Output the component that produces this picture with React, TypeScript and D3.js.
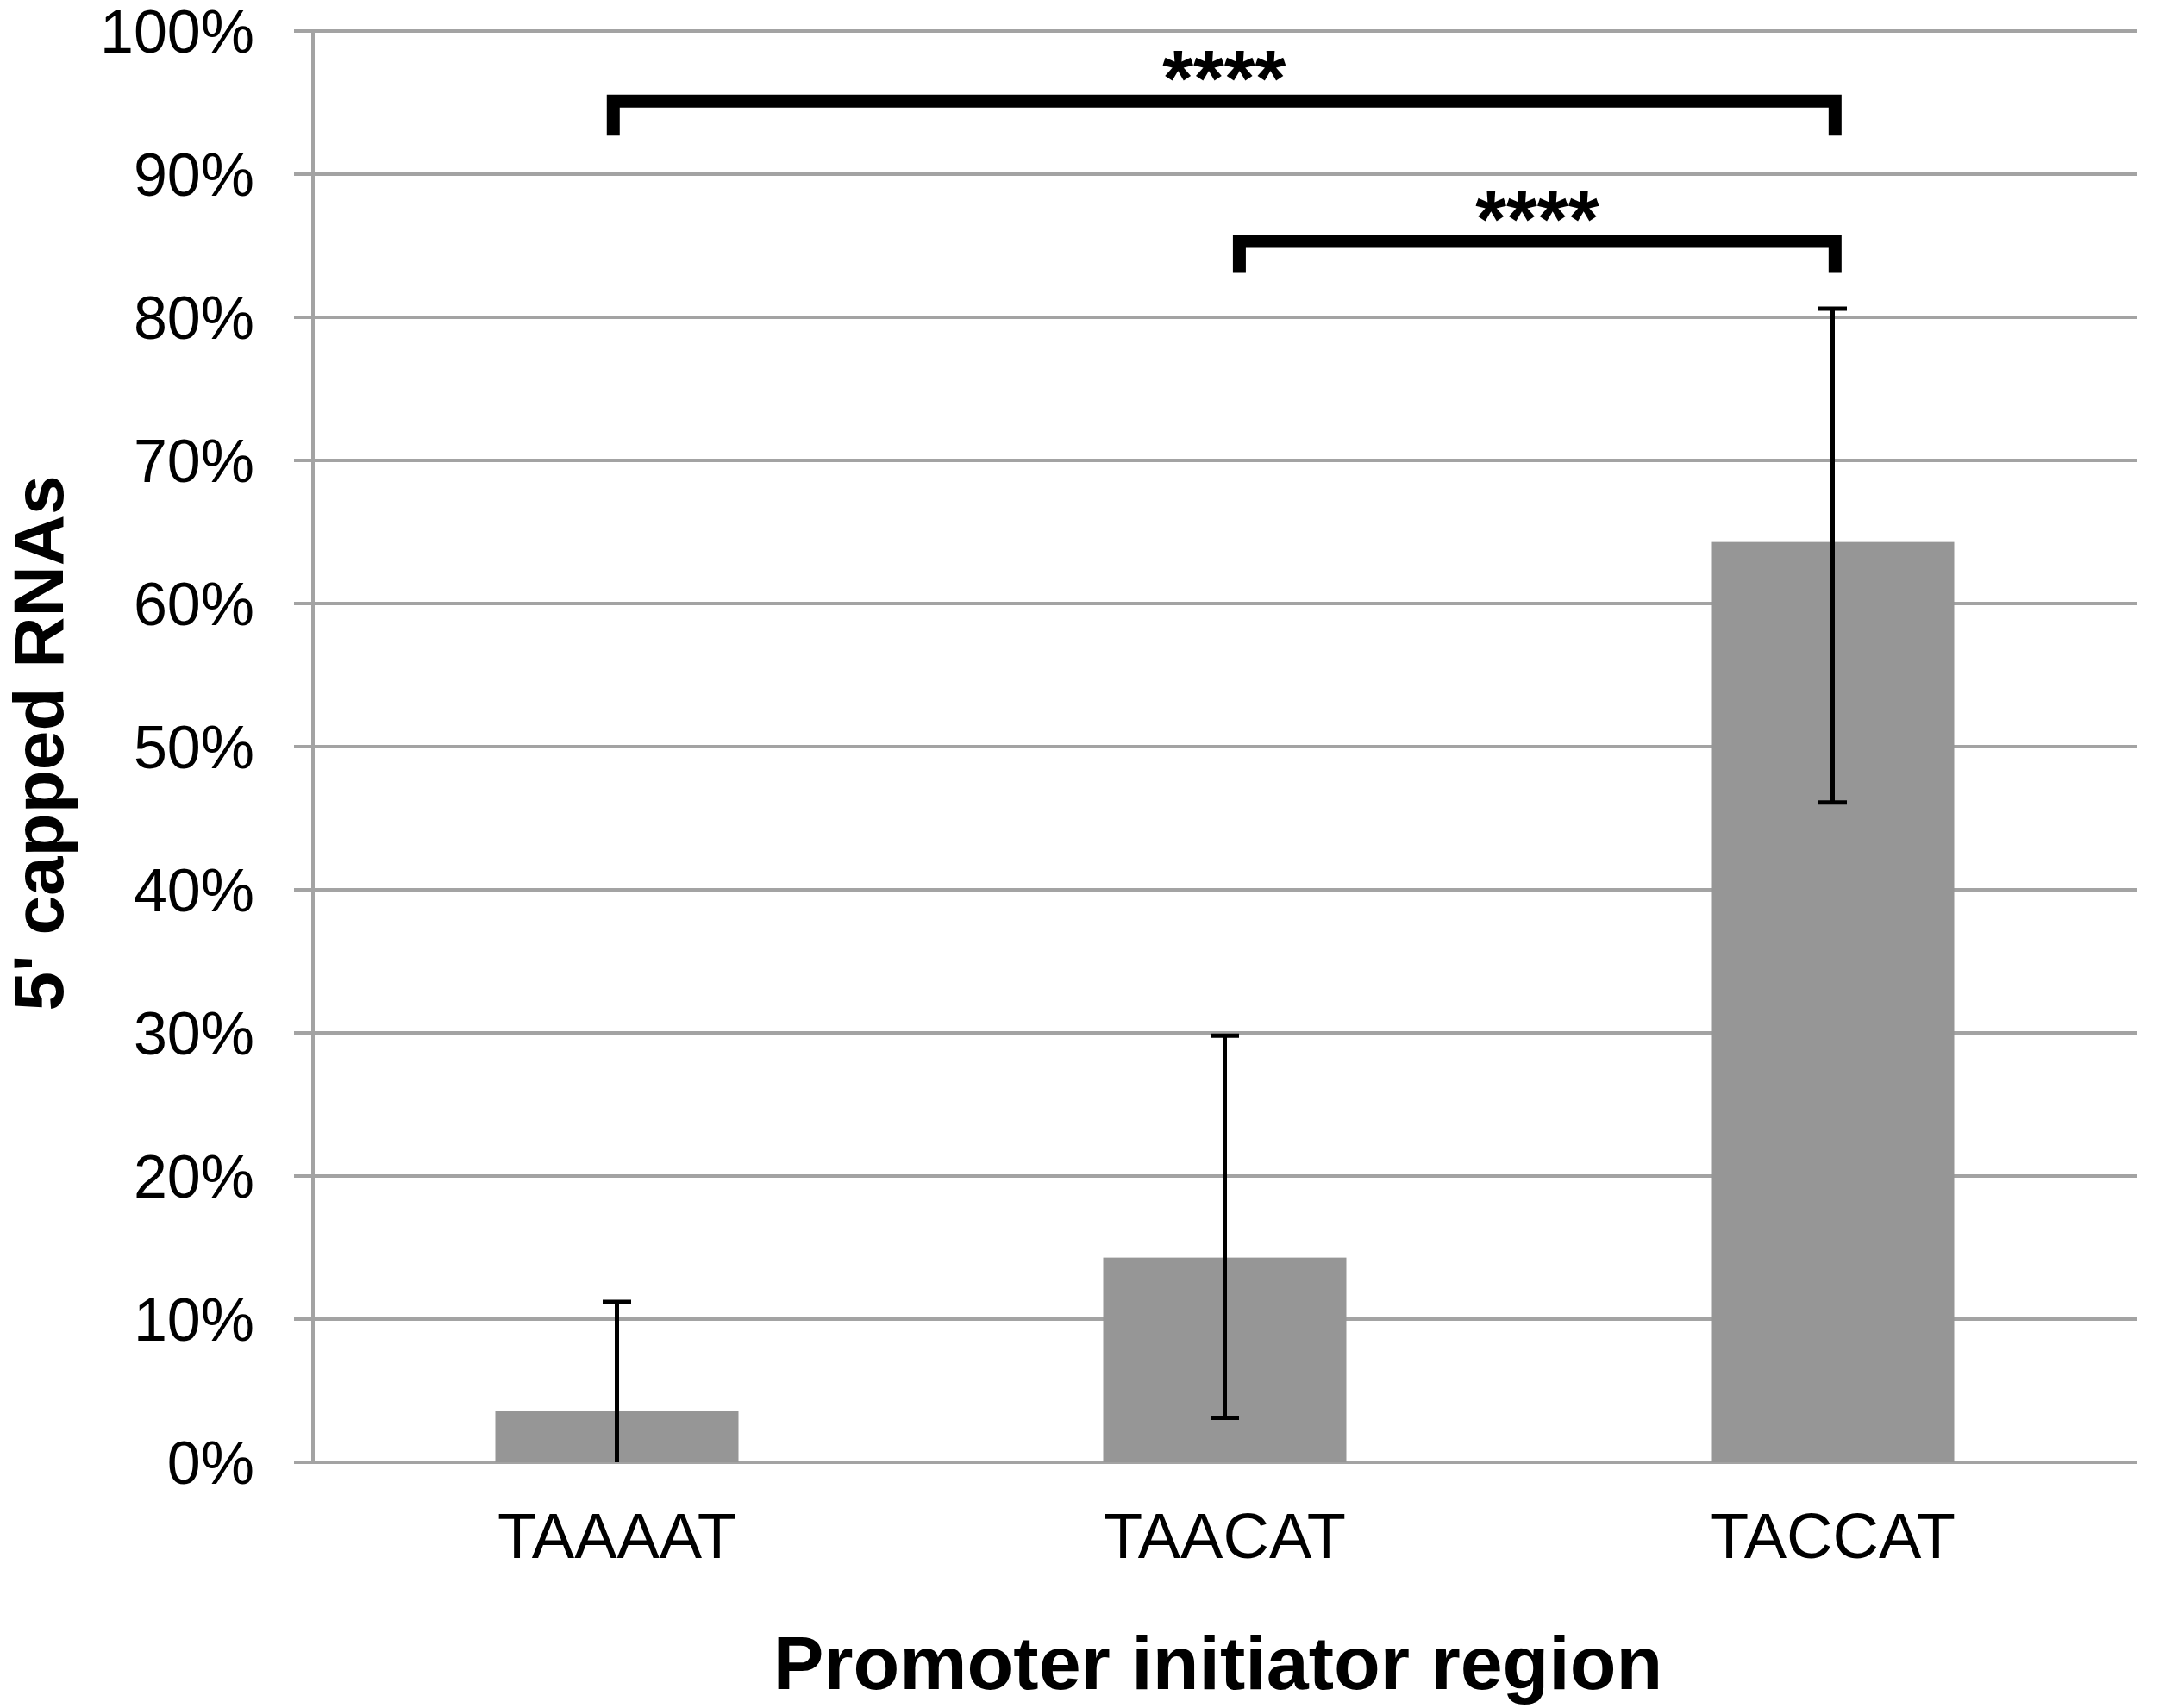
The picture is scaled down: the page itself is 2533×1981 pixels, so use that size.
import React from "react";
import * as d3 from "d3";

const categories = ["TAAAAT", "TAACAT", "TACCAT"];
const means = [3.6, 14.3, 64.3];
const errHigh = [11.2, 29.8, 80.6];
const errLow = [-4.0, 3.1, 46.1];
const yTicks = [0, 10, 20, 30, 40, 50, 60, 70, 80, 90, 100];
const brackets = [
  { from: "TAAAAT", to: "TACCAT", fromShift: -0.006, toShift: 0.004, level: 95.1, foot: 92.7, label: "****" },
  { from: "TAACAT", to: "TACCAT", fromShift: 0.024, toShift: 0.004, level: 85.3, foot: 83.1, label: "****" },
];
const xTitle = "Promoter initiator region";
const yTitle = "5' capped RNAs";

const W = 2533;
const H = 1981;
const FONT = "'Liberation Sans', Arial, Helvetica, sans-serif";

export default function App() {
  const left = 363;
  const right = 2478;
  const top = 36;
  const bottom = 1696;

  const x = d3.scaleBand<string>().domain(categories).range([left, right]).padding(0);
  const y = d3.scaleLinear().domain([0, 100]).range([bottom, top]);
  const bw = x.bandwidth() * 0.4;
  const cx = (c: string) => (x(c) as number) + x.bandwidth() / 2;
  const capW = 33;

  return (
    <svg
      width={W}
      height={H}
      viewBox={`0 0 ${W} ${H}`}
      style={{ position: "absolute", left: 0, top: 0, background: "#fff" }}
    >
      <rect x={0} y={0} width={W} height={H} fill="#fff" />
      {yTicks.map((t) => (
        <line key={t} x1={left - 22} x2={right} y1={y(t)} y2={y(t)} stroke="#a3a3a3" strokeWidth={4} />
      ))}
      <line x1={left} x2={left} y1={y(100)} y2={y(0)} stroke="#a3a3a3" strokeWidth={4} />
      {yTicks.map((t) => (
        <text
          key={"l" + t}
          x={295}
          y={y(t) + 1}
          textAnchor="end"
          dominantBaseline="central"
          fontFamily={FONT}
          fontSize={70}
          fill="#000"
        >
          {t + "%"}
        </text>
      ))}
      {categories.map((c, i) => (
        <rect
          key={c}
          x={cx(c) - bw / 2}
          y={y(means[i])}
          width={bw}
          height={y(0) - y(means[i])}
          fill="#969696"
        />
      ))}
      {categories.map((c, i) => {
        const lo = Math.max(0, errLow[i]);
        const xc = cx(c);
        return (
          <g key={"e" + c} stroke="#000" strokeWidth={5}>
            <line x1={xc} x2={xc} y1={y(errHigh[i])} y2={y(lo)} />
            <line x1={xc - capW / 2} x2={xc + capW / 2} y1={y(errHigh[i])} y2={y(errHigh[i])} />
            {errLow[i] > 0 && (
              <line x1={xc - capW / 2} x2={xc + capW / 2} y1={y(lo)} y2={y(lo)} />
            )}
          </g>
        );
      })}
      {categories.map((c) => (
        <text
          key={"c" + c}
          x={cx(c)}
          y={1807}
          textAnchor="middle"
          fontFamily={FONT}
          fontSize={74}
          fill="#000"
        >
          {c}
        </text>
      ))}
      {brackets.map((b, i) => {
        const x1 = cx(b.from) + b.fromShift * x.bandwidth();
        const x2 = cx(b.to) + b.toShift * x.bandwidth();
        const path = `M${x1},${y(b.foot)} V${y(b.level)} H${x2} V${y(b.foot)}`;
        return (
          <g key={"b" + i}>
            <path d={path} fill="none" stroke="#000" strokeWidth={15} strokeLinejoin="miter" />
            <text
              x={(x1 + x2) / 2}
              y={y(b.level) + 6}
              textAnchor="middle"
              fontFamily={FONT}
              fontWeight="bold"
              fontSize={92}
              fill="#000"
            >
              {b.label}
            </text>
          </g>
        );
      })}
      <text
        x={(left + right) / 2 - 8}
        y={1959}
        textAnchor="middle"
        fontFamily={FONT}
        fontWeight="bold"
        fontSize={88}
        fill="#000"
      >
        {xTitle}
      </text>
      <text
        transform={`translate(73, 862) rotate(-90)`}
        textAnchor="middle"
        fontFamily={FONT}
        fontWeight="bold"
        fontSize={82}
        fill="#000"
      >
        {yTitle}
      </text>
    </svg>
  );
}
